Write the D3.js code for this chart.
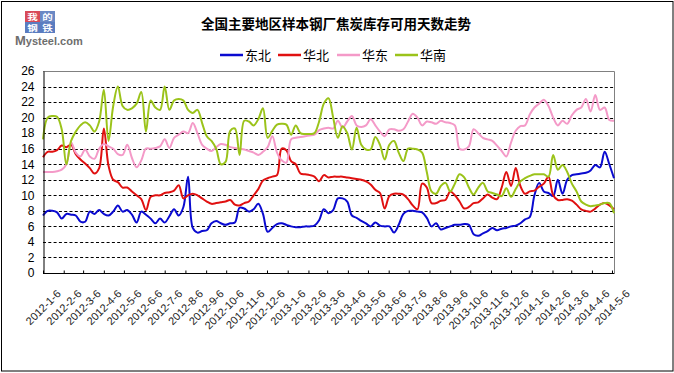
<!DOCTYPE html>
<html>
<head>
<meta charset="utf-8">
<script src="https://cdn.jsdelivr.net/npm/d3@7"></script>
<style>
  body { margin: 0; background: #fff; }
  svg { display: block; }
</style>
</head>
<body>
<div id="chart"></div>
<script>
// weekly data, first week is 2012-1-6
const firstWeek = '2012-1-6';
const weekCount = 123;
const seriesNames = ['东北', '华北', '华东', '华南'];
const seriesColors = ['#0a0ad0', '#e01010', '#f49ac8', '#9bc31a'];
const tickLabels = ['2012-1-6', '2012-2-6', '2012-3-6', '2012-4-6', '2012-5-6', '2012-6-6', '2012-7-6', '2012-8-6',
  '2012-9-6', '2012-10-6', '2012-11-6', '2012-12-6', '2013-1-6', '2013-2-6', '2013-3-6', '2013-4-6', '2013-5-6',
  '2013-6-6', '2013-7-6', '2013-8-6', '2013-9-6', '2013-10-6', '2013-11-6', '2013-12-6', '2014-1-6', '2014-2-6',
  '2014-3-6', '2014-4-6', '2014-5-6'];
const yTicks = [0, 2, 4, 6, 8, 10, 12, 14, 16, 18, 20, 22, 24, 26];

const dongbei = [
  7.4, 8.0, 8.0, 7.8, 7.0, 7.6, 7.5, 7.4, 6.6, 6.6,
  7.9, 7.6, 8.1, 7.6, 7.4, 7.9, 8.7, 7.9, 8.1, 7.5,
  6.5, 7.9, 7.5, 7.0, 6.4, 7.0, 6.5, 7.3, 8.2, 7.4,
  8.5, 12.4, 5.8, 5.2, 5.4, 5.5, 6.4, 6.7, 6.4, 6.2,
  6.4, 6.5, 8.4, 8.3, 7.9, 8.2, 8.9, 7.6, 5.3, 5.8,
  6.3, 6.4, 6.2, 6.0, 5.9, 5.9, 6.0, 6.0, 6.1, 6.8,
  8.2, 7.7, 8.1, 9.6, 9.6, 9.2, 7.4, 7.1, 6.7, 6.4,
  6.0, 6.5, 6.1, 6.0, 6.0, 5.2, 6.2, 7.6, 8.0, 8.0,
  7.9, 7.8, 7.1, 6.0, 6.4, 5.6, 5.8, 6.0, 6.2, 6.2,
  6.3, 6.2, 5.0, 4.8, 5.1, 5.4, 5.8, 5.5, 5.7, 5.8,
  6.0, 6.1, 6.4, 6.9, 7.2, 10.0, 11.6, 10.5, 10.3, 9.9,
  12.0, 10.2, 12.0, 12.6, 12.7, 12.8, 12.9, 13.2, 13.9, 13.6,
  15.6, 14.0, 12.2];
const huabei = [
  14.9, 15.6, 15.6, 15.8, 16.4, 16.2, 16.5, 15.3, 14.6, 14.1,
  13.5, 12.8, 13.5, 18.6, 13.8, 12.0, 11.7, 11.0, 11.0, 10.5,
  10.0, 9.5, 8.1, 9.8, 10.0, 10.0, 10.3, 10.4, 10.6, 11.3,
  9.6, 10.0, 10.2, 10.0, 9.6, 9.2, 8.9, 9.0, 9.1, 9.2,
  9.4, 8.8, 8.7, 9.0, 9.2, 10.0, 10.8, 11.9, 12.2, 12.4,
  12.6, 16.0, 15.8, 14.4, 14.0, 12.8, 12.7, 12.6, 12.4, 11.8,
  12.6, 12.3, 12.4, 12.4, 12.4, 12.3, 12.2, 12.1, 12.0, 11.8,
  11.4, 10.7, 10.3, 8.3, 9.9, 10.2, 10.2, 10.1, 9.5, 8.7,
  8.2, 11.5, 11.0, 9.0, 9.0, 9.3, 9.4, 10.5, 10.0, 9.2,
  8.3, 8.5, 9.0, 9.1, 9.6, 10.1, 9.7, 9.5, 11.0, 13.0,
  11.2, 13.5, 11.2, 10.2, 10.5, 10.6, 11.1, 11.5, 12.4, 10.0,
  9.4, 9.4, 9.5, 9.3, 8.8, 8.2, 8.0, 7.9, 8.3, 8.8,
  9.0, 8.7, 8.2];
const huadong = [
  13.0, 13.0, 13.0, 13.1, 13.3, 14.0, 16.8, 15.5, 15.0, 15.9,
  15.0, 14.7, 16.0, 16.6, 16.3, 16.0, 15.3, 15.2, 16.5, 14.8,
  13.6, 14.5, 16.0, 16.0, 16.1, 16.3, 17.2, 16.1, 17.4, 17.8,
  18.2, 18.0, 19.3, 18.0, 16.5, 16.0, 15.7, 16.2, 16.6, 16.5,
  16.2, 16.1, 16.0, 15.9, 15.7, 15.5, 15.2, 15.6, 16.2, 17.6,
  15.5, 14.5, 14.2, 17.2, 17.4, 17.5, 17.6, 17.7, 17.8, 18.4,
  18.6, 18.7, 18.6, 19.6, 18.7, 19.5, 20.2, 19.0, 18.8, 19.0,
  19.8, 19.0, 18.2, 17.6, 18.5, 18.5, 18.3, 18.5, 19.5, 20.5,
  20.0, 19.0, 19.5, 19.4, 19.2, 19.6, 19.4, 19.3, 19.0, 16.0,
  15.9, 16.3, 18.5, 18.0, 17.4, 17.2, 17.0, 16.4, 15.7, 15.0,
  16.8, 18.3, 18.9, 19.0, 20.4, 21.3, 21.8, 22.3, 21.5, 20.0,
  19.0, 19.6, 19.2, 20.3, 21.0, 21.3, 22.4, 20.8, 22.9, 21.0,
  21.3, 19.7, 19.6];
const huanan = [
  17.2, 20.0, 20.2, 20.1, 18.5, 14.0, 17.0, 18.2, 19.0, 19.4,
  19.0, 18.2, 19.5, 23.6, 17.0, 21.5, 24.0, 21.5, 21.0, 21.2,
  21.8, 23.3, 18.2, 22.2, 21.3, 21.0, 24.0, 21.0, 22.2, 22.4,
  22.2, 21.0, 20.6, 21.0, 19.3, 17.6, 17.0, 16.0, 14.0, 14.3,
  18.3, 18.6, 15.2, 19.6, 19.5, 19.0, 19.8, 21.2, 17.4, 18.3,
  19.1, 19.2, 19.1, 17.8, 19.0, 18.0, 17.9, 17.9, 18.0, 19.5,
  21.8, 22.5, 20.0, 17.4, 18.9, 18.0, 15.9, 18.7, 16.5, 15.9,
  15.9, 17.5, 16.5, 14.6, 16.5, 17.0, 15.5, 14.4, 16.0, 16.0,
  15.9, 15.5, 13.0, 10.5, 10.2, 11.2, 11.6, 10.5, 11.5, 12.7,
  12.3, 11.0, 10.1, 11.0, 11.6, 10.5, 10.3, 10.1, 9.9, 10.9,
  9.8, 10.8, 11.8, 12.2, 12.5, 12.7, 12.7, 12.7, 12.4, 15.2,
  13.3, 13.9, 13.0, 11.5, 10.5, 9.2, 8.8, 8.6, 8.7, 8.8,
  9.0, 9.0, 7.7];

const W = 674, H = 373;
const margin = { left: 43, right: 614.5, top: 71, bottom: 273 };
const parseDay = d3.timeParse('%Y-%m-%d');
const start = parseDay(firstWeek);
const weeks = d3.range(weekCount).map((i) => d3.timeDay.offset(start, i * 7));
const tickDates = tickLabels.map((s) => parseDay(s));
const allSeries = [dongbei, huabei, huadong, huanan];

const svg = d3.select('#chart').append('svg').attr('width', W).attr('height', H);
const font = 'Liberation Sans, Arial, sans-serif';
const cjk = '"Noto Sans CJK SC", sans-serif';

// outer frame
svg.append('rect').attr('x', 1.5).attr('y', 1.5).attr('width', 671.5).attr('height', 369.5)
  .attr('fill', '#fff').attr('stroke', '#000').attr('stroke-width', 1);

// logo
const logo = svg.append('g');
const logoCells = [
  { t: '我', x: 25, y: 11, c: '#d84a58' },
  { t: '的', x: 40, y: 11, c: '#6a88c4' },
  { t: '钢', x: 25, y: 22, c: '#5a7cc0' },
  { t: '铁', x: 40, y: 22, c: '#5a7cc0' },
];
logo.selectAll('rect').data(logoCells).join('rect')
  .attr('x', (d) => d.x).attr('y', (d) => d.y).attr('width', 15).attr('height', 11).attr('fill', (d) => d.c);
logo.selectAll('text.cell').data(logoCells).join('text').attr('class', 'cell')
  .attr('transform', (d) => `translate(${d.x + 7.5},${d.y + 8.8}) scale(1,0.74)`).attr('text-anchor', 'middle')
  .attr('font-family', cjk).attr('font-weight', 'bold').attr('font-size', 10.5).attr('fill', '#fff').text((d) => d.t);
logo.append('text').attr('x', 15).attr('y', 45).attr('font-family', font).attr('fill', '#6e6e6e')
  .html('<tspan font-size="13" font-weight="bold">M</tspan><tspan font-size="11" font-weight="bold">ysteel.com</tspan>');

// title
svg.append('text').attr('x', 336).attr('y', 29).attr('text-anchor', 'middle')
  .attr('font-family', cjk).attr('font-weight', 'bold').attr('font-size', 13.5).attr('fill', '#000')
  .text('全国主要地区样本钢厂焦炭库存可用天数走势');

// legend
const legendX = [220, 278, 337, 395];
const legend = svg.append('g').selectAll('g').data(seriesNames).join('g')
  .attr('transform', (d, i) => `translate(${legendX[i]},55)`);
legend.append('line').attr('x1', 0).attr('x2', 23).attr('stroke', (d, i) => seriesColors[i]).attr('stroke-width', 2.5);
legend.append('text').attr('x', 25).attr('y', 5).attr('font-family', cjk).attr('font-size', 13).attr('fill', '#000')
  .text((d) => d);

const x = d3.scaleTime().domain([weeks[0], weeks[weekCount - 1]]).range([margin.left, 614]);
const y = d3.scaleLinear().domain([0, 26]).range([margin.bottom, margin.top]);

// gridlines
svg.append('g').selectAll('line').data(yTicks.filter((v) => v > 0 && v < 26)).join('line')
  .attr('x1', margin.left).attr('x2', margin.right)
  .attr('y1', (d) => Math.round(y(d)) + 0.5).attr('y2', (d) => Math.round(y(d)) + 0.5)
  .attr('stroke', '#000').attr('stroke-width', 1).attr('stroke-dasharray', '3,2.3');

// plot frame top/right
svg.append('path').attr('d', `M${margin.left},${margin.top + 0.5}H${margin.right}V${margin.bottom}`)
  .attr('fill', 'none').attr('stroke', '#808080').attr('stroke-width', 1);

// series
const line = d3.line().x((d, i) => x(weeks[i])).y((d) => y(d)).curve(d3.curveCatmullRom.alpha(0.5));
svg.append('g').selectAll('path').data(allSeries).join('path')
  .attr('d', line).attr('fill', 'none').attr('stroke', (d, i) => seriesColors[i])
  .attr('stroke-width', 2).attr('stroke-linejoin', 'round');

// y axis
const yAxis = svg.append('g').attr('transform', `translate(${margin.left + 0.5},0)`)
  .call(d3.axisLeft(y).tickValues(yTicks).tickSize(0).tickPadding(9).tickFormat(d3.format('d')));
yAxis.select('.domain').attr('stroke', '#000');
yAxis.selectAll('text').attr('font-family', font).attr('font-size', 12).attr('fill', '#000');

// x axis
const xAxis = svg.append('g').attr('transform', `translate(0,${margin.bottom + 0.5})`)
  .call(d3.axisBottom(x).tickValues(tickDates).tickSizeInner(-3).tickSizeOuter(0).tickFormat((d, i) => tickLabels[i]));
xAxis.select('.domain').attr('stroke', '#000').attr('d', `M${margin.left},0H${margin.right}`);
xAxis.selectAll('.tick line').attr('stroke', '#000');
xAxis.selectAll('text').attr('y', 0).attr('dy', 0).attr('text-anchor', 'end')
  .attr('transform', 'translate(18,21) rotate(-45)')
  .attr('font-family', font).attr('font-size', 11).attr('fill', '#222');
</script>
</body>
</html>
